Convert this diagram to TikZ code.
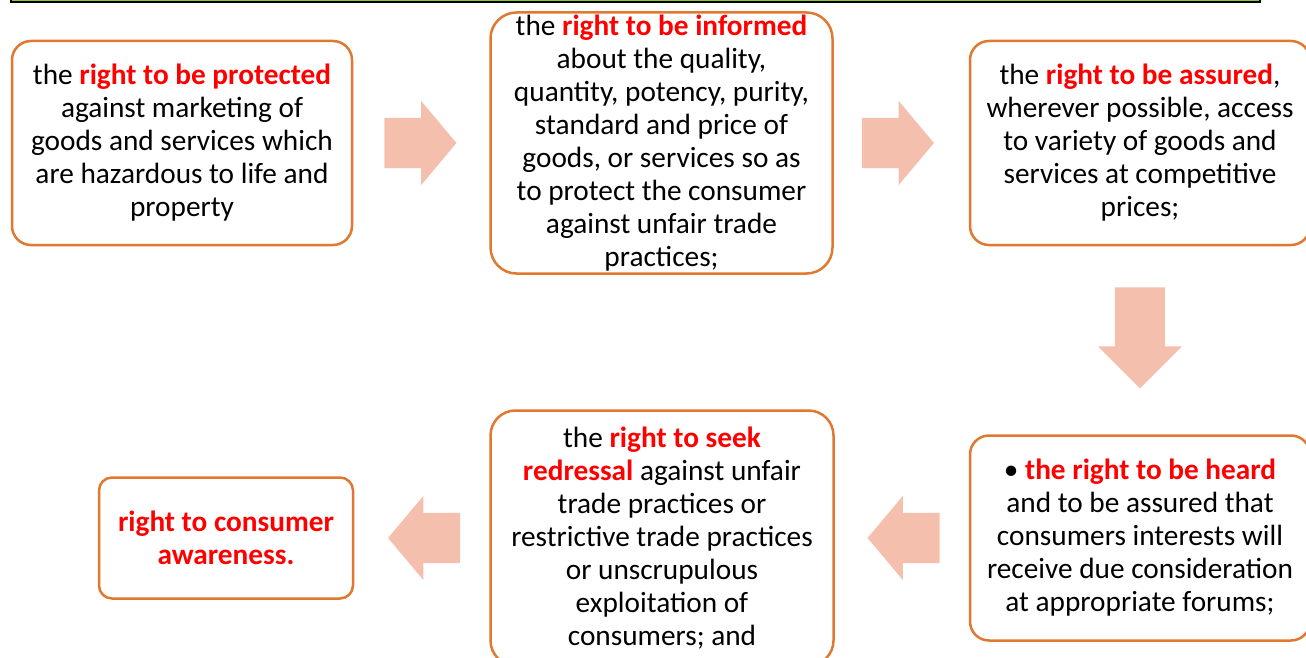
\documentclass[tikz,border=0pt]{standalone}
\usepackage{fontspec}
\setmainfont{Carlito}
\usetikzlibrary{positioning,calc,shapes.arrows}

\definecolor{boxorange}{HTML}{E0782F}
\definecolor{arrowpink}{HTML}{F4C0AD}
\definecolor{keyred}{HTML}{FF0000}
\definecolor{bargreen}{HTML}{8DC63F}
\newcommand{\keyright}[1]{\textcolor{keyred}{\bfseries #1}}

\begin{document}
\begin{tikzpicture}[
    x=1pt, y=-1pt,
    node distance=135pt,
    box/.style={
        rectangle,
        rounded corners=19pt,
        draw=boxorange,
        line width=2.5pt,
        fill=white,
        align=center,
        inner sep=0pt,
        font=\fontsize{29.3}{33}\selectfont
    },
    blockarrow/.style={
        single arrow,
        fill=arrowpink,
        draw=none,
        minimum height=72pt,
        single arrow head extend=17pt,
        single arrow tip angle=100,
        inner sep=25pt
    }
]
\useasboundingbox (0,0) rectangle (1306,658);
\clip (0,0) rectangle (1306,658);

% title bar, cut off at the top
\draw[line width=1.5pt, fill=bargreen] (11,-10) rectangle (1260,2);

\node[box, minimum width=340pt, minimum height=204pt] (protect) at (182,143)
    {the \keyright{right to be protected}\\against marketing of\\goods and services which\\are hazardous to life and\\property};
\node[box, rounded corners=26pt, minimum width=342pt, minimum height=261pt, right=136pt of protect] (inform)
    {the \keyright{right to be informed}\\about the quality,\\quantity, potency, purity,\\standard and price of\\goods, or services so as\\to protect the consumer\\against unfair trade\\practices;};
\node[box, minimum width=340pt, minimum height=204pt, right=135pt of inform] (assure)
    {the \keyright{right to be assured},\\wherever possible, access\\to variety of goods and\\services at competitive\\prices;};
\node[box, minimum width=340pt, minimum height=205pt, below=188pt of assure] (heard)
    {• \keyright{the right to be heard}\\and to be assured that\\consumers interests will\\receive due consideration\\at appropriate forums;};
\node[box, rounded corners=25pt, minimum width=343pt, minimum height=255pt, left=134pt of heard] (redress)
    {the \keyright{right to seek}\\\keyright{redressal} against unfair\\trade practices or\\restrictive trade practices\\or unscrupulous\\exploitation of\\consumers; and};
\node[box, rounded corners=13pt, minimum width=254pt, minimum height=121pt, left=135pt of redress] (aware)
    {\keyright{right to consumer}\\\keyright{awareness.}};

% block arrows between the boxes
\node[blockarrow, right=31pt of protect, anchor=tail] (arr1) {};
\node[blockarrow, right=28pt of inform, anchor=tail] (arr2) {};
\node[blockarrow, shape border rotate=270, minimum height=101pt, single arrow tip angle=90,
    below=41pt of assure, anchor=tail] (arr3) {};
\node[blockarrow, shape border rotate=180, left=29pt of heard, anchor=tail] (arr4) {};
\node[blockarrow, shape border rotate=180, left=29pt of redress, anchor=tail] (arr5) {};

\end{tikzpicture}
\end{document}
